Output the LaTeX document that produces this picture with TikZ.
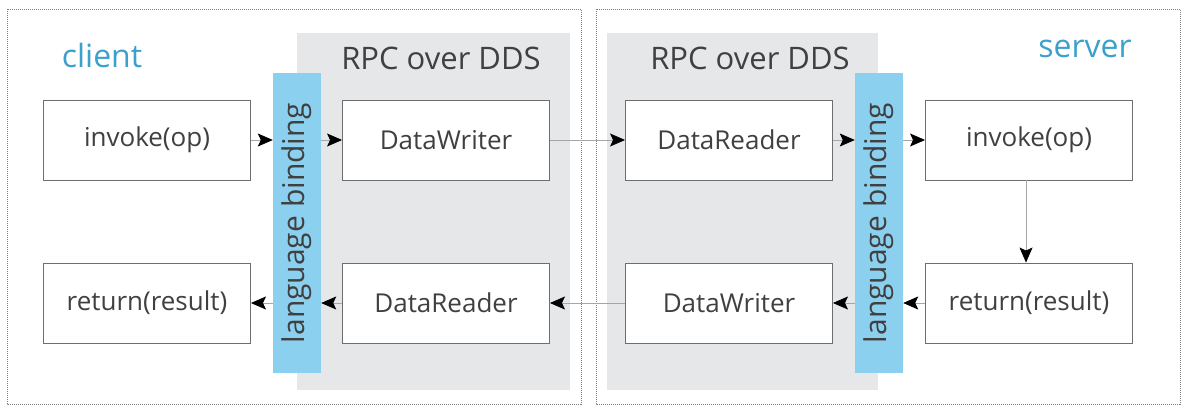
\documentclass[tikz,border=0pt]{standalone}
\usepackage{fontspec}
\setmainfont{Open Sans}
\usetikzlibrary{arrows.meta}

\definecolor{rpcgray}{RGB}{230,231,233}
\definecolor{bindblue}{RGB}{140,208,240}
\definecolor{roleblue}{RGB}{60,160,205}
\definecolor{textgray}{RGB}{64,64,64}
\definecolor{boxline}{RGB}{110,110,110}

\tikzset{
  opbox/.style={draw=boxline,fill=white,line width=0.9pt,minimum width=207pt,minimum height=80pt,inner sep=0pt,text=textgray,font=\fontsize{26}{30}\selectfont},
  binding/.style={fill=bindblue,minimum width=48pt,minimum height=300pt,inner sep=0pt},
  flow/.style={draw=black!35,line width=0.8pt,-{Stealth[black,length=15pt,width=13pt,inset=3pt]}}
}

\begin{document}
\begin{tikzpicture}[x=1pt,y=-1pt]
        \useasboundingbox (0,0) rectangle (1183,412);
        % the two sides
        \draw[black!50,line width=0.7pt,dash pattern=on 1pt off 1pt] (7,9) rectangle (581,404);
        \draw[black!50,line width=0.7pt,dash pattern=on 1pt off 1pt] (596,9) rectangle (1180,404);
        \fill[rpcgray] (297,33) rectangle (570,390);
        \fill[rpcgray] (607,33) rectangle (878,390);
        \path (102,55) node[text=roleblue,font=\fontsize{32}{36}\selectfont] (clientlbl) {client};
        \path (1085,49) node[text=roleblue,font=\fontsize{32}{36}\selectfont] (serverlbl) {server};
        \path (441,58) node[text=textgray,font=\fontsize{31}{36}\selectfont] (rpcleft) {RPC over DDS};
        \path (750,58) node[text=textgray,font=\fontsize{31}{36}\selectfont] (rpcright) {RPC over DDS};
        % language bindings
        \node[binding] (bindleft) at (297,223) {};
        \node[binding] (bindright) at (879,223) {};
        \node[rotate=90,text=textgray,font=\fontsize{30}{34}\selectfont] at (bindleft) {language binding};
        \node[rotate=90,text=textgray,font=\fontsize{30}{34}\selectfont] at (bindright) {language binding};
        % client side
        \node[opbox] (cinvoke) at (147,140) {invoke(op)};
        \node[opbox] (creturn) at (147,303) {return(result)};
        \node[opbox] (cwriter) at (446,140) {DataWriter};
        \node[opbox] (creader) at (446,303) {DataReader};
        % server side
        \node[opbox] (sreader) at (729,140) {DataReader};
        \node[opbox] (swriter) at (729,303) {DataWriter};
        \node[opbox] (sinvoke) at (1029,140) {invoke(op)};
        \node[opbox] (sreturn) at (1029,303) {return(result)};
        \coordinate (downx) at (1026,0);
        % request path
        \draw[flow] (cinvoke) -- (bindleft.west |- cinvoke);
        \draw[flow] (bindleft.east |- cwriter) -- (cwriter);
        \draw[flow] (cwriter) -- (sreader);
        \draw[flow] (sreader) -- (bindright.west |- sreader);
        \draw[flow] (bindright.east |- sinvoke) -- (sinvoke);
        \draw[flow] (sinvoke.south -| downx) -- (sreturn.north -| downx);
        % reply path
        \draw[flow] (sreturn) -- (bindright.east |- sreturn);
        \draw[flow] (bindright.west |- swriter) -- (swriter);
        \draw[flow] (swriter) -- (creader);
        \draw[flow] (creader) -- (bindleft.east |- creader);
        \draw[flow] (bindleft.west |- creturn) -- (creturn);
      \end{tikzpicture}
\end{document}
